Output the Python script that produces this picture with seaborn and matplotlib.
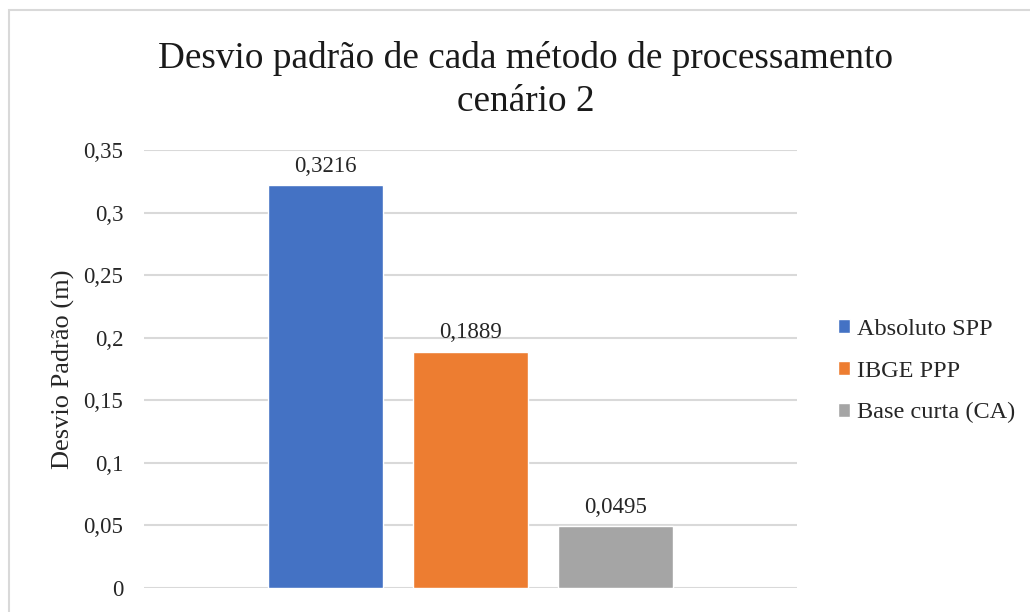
import seaborn as sns
import matplotlib.pyplot as plt
import pandas as pd
from matplotlib.patches import Rectangle
from matplotlib.ticker import FuncFormatter

# data
metodos = ["Absoluto SPP", "IBGE PPP", "Base curta (CA)"]
desvios = [0.3216, 0.1889, 0.0495]
cores = ["#4472C4", "#ED7D31", "#A5A5A5"]
yticks = [0, 0.05, 0.1, 0.15, 0.2, 0.25, 0.3, 0.35]

df = pd.DataFrame({"grupo": ["cenário 2"] * 3, "metodo": metodos, "desvio": desvios})

sns.set_theme(style="white")
plt.rcParams["font.family"] = ["Liberation Serif", "DejaVu Serif"]

fig = plt.figure(figsize=(10.3, 6.12), dpi=100)
ax = fig.add_axes([0.1398, 0.0392, 0.634, 0.7158])

sns.barplot(data=df, x="grupo", y="desvio", hue="metodo", palette=cores,
            saturation=1, width=0.667, gap=0.21, ax=ax, legend=True)

# valores acima das barras
for cont in ax.containers:
    ax.bar_label(cont, labels=[f"{v:.4f}".replace(".", ",") for v in cont.datavalues],
                 padding=6, fontsize=16.5, color="#262626")

ax.set_ylim(0, 0.35)
ax.set_xlim(-0.5, 0.5)
ax.set_yticks(yticks)
ax.yaxis.set_major_formatter(FuncFormatter(lambda v, p: f"{v:g}".replace(".", ",")))
ax.tick_params(axis="y", labelsize=16.5, pad=15, length=0, labelcolor="#262626")
ax.set_xticks([])
ax.set_xlabel("")
ax.set_ylabel("Desvio Padrão (m)", fontsize=19, color="#262626", labelpad=6)
ax.yaxis.grid(True, color="#D9D9D9", linewidth=1.5)
ax.set_axisbelow(True)
sns.despine(ax=ax, left=True, bottom=True)

leg = ax.legend(loc="center left", bbox_to_anchor=(1.029, 0.495), frameon=False,
                fontsize=17.5, handlelength=0.5, handleheight=0.5, handletextpad=0.3,
                labelspacing=0.85, labelcolor="#262626")

fig.text(0.51, 0.905, "Desvio padrão de cada método de processamento", ha="center",
         va="center", fontsize=26.8, color="#1a1a1a")
fig.text(0.51, 0.833, "cenário 2", ha="center", va="center", fontsize=26.8, color="#1a1a1a")

# moldura do gráfico
fig.patches.append(Rectangle((9 / 1030, -0.1), 1.2, 1 - 10 / 612 + 0.1,
                             transform=fig.transFigure, fill=False,
                             edgecolor="#D9D9D9", linewidth=1.5))

fig.savefig("out.png", dpi=100)
